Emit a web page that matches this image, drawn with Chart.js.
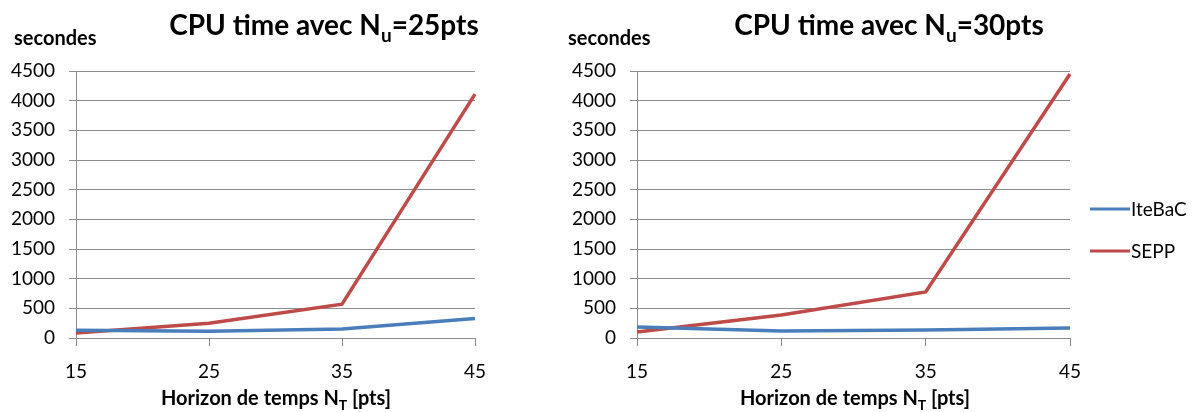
<!DOCTYPE html>
<html>
<head>
<meta charset="utf-8">
<script src="https://cdn.jsdelivr.net/npm/chart.js@4.4.0/dist/chart.umd.min.js"></script>
<style>
  html, body { margin: 0; padding: 0; background: #fff; }
  #wrap { position: relative; width: 1198px; height: 412px; overflow: hidden; }
  .box { position: absolute; top: 0; height: 412px; }
  #leftBox { left: 0; width: 560px; }
  #rightBox { left: 560px; width: 638px; }
</style>
</head>
<body>
<div id="wrap">
  <div class="box" id="leftBox"><canvas id="cpu25"></canvas></div>
  <div class="box" id="rightBox"><canvas id="cpu30"></canvas></div>
</div>
<script>
'use strict';

/* --- Data --- */
const horizons = ['15', '25', '35', '45'];
const yTickValues = [0, 500, 1000, 1500, 2000, 2500, 3000, 3500, 4000, 4500];

const iteBaC25 = [130, 115, 150, 330];
const sepp25 = [85, 250, 570, 4110];

const iteBaC30 = [185, 118, 135, 168];
const sepp30 = [100, 388, 775, 4450];

const BLUE = '#4a7ebb';
const RED = '#be4b48';
const GRID = '#8c8c8c';
const FONT = 'Lato';

/* --- Text with a subscript part: [main, sub, tail] --- */
function drawSubText(ctx, parts, cx, baseline, size, subSize, drop) {
  ctx.font = `bold ${size}px ${FONT}`;
  const w0 = ctx.measureText(parts[0]).width;
  const w2 = ctx.measureText(parts[2]).width;
  ctx.font = `bold ${subSize}px ${FONT}`;
  const w1 = ctx.measureText(parts[1]).width;
  let x = cx - (w0 + w1 + w2) / 2;
  ctx.textAlign = 'left';
  ctx.font = `bold ${size}px ${FONT}`;
  ctx.fillText(parts[0], x, baseline);
  x += w0;
  ctx.font = `bold ${subSize}px ${FONT}`;
  ctx.fillText(parts[1], x, baseline + drop);
  x += w1;
  ctx.font = `bold ${size}px ${FONT}`;
  ctx.fillText(parts[2], x, baseline);
}

/* --- Titles, unit label, axis title and legend --- */
const captionPlugin = {
  id: 'captions',
  afterDraw(chart, args, opts) {
    const ctx = chart.ctx;
    ctx.save();
    ctx.fillStyle = '#000';
    ctx.textBaseline = 'alphabetic';

    drawSubText(ctx, opts.title, opts.titleX, 35, 28, 19, 7);
    drawSubText(ctx, opts.axisTitle, opts.axisX, 405, 20, 14, 5);

    ctx.font = `bold 20px ${FONT}`;
    ctx.textAlign = 'left';
    ctx.fillText('secondes', opts.unitX, 45);

    if (opts.legendX != null) {
      chart.data.datasets.forEach((ds, i) => {
        const y = opts.legendY[i];
        ctx.strokeStyle = ds.borderColor;
        ctx.lineWidth = 3;
        ctx.beginPath();
        ctx.moveTo(opts.legendX, y);
        ctx.lineTo(opts.legendX + 40, y);
        ctx.stroke();
        ctx.font = `19px ${FONT}`;
        ctx.textBaseline = 'middle';
        ctx.fillText(ds.label, opts.legendX + 41, y + 1);
      });
    }
    ctx.restore();
  }
};

/* --- Chart builder --- */
function buildChart(id, iteVals, seppVals, caps, yWidth, padRight) {
  return new Chart(document.getElementById(id), {
    type: 'line',
    data: {
      labels: horizons,
      datasets: [{
        label: 'IteBaC',
        data: iteVals,
        borderColor: BLUE,
        borderWidth: 3.5,
        pointRadius: 0,
        tension: 0
      }, {
        label: 'SEPP',
        data: seppVals,
        borderColor: RED,
        borderWidth: 3.5,
        pointRadius: 0,
        tension: 0
      }]
    },
    options: {
      responsive: true, maintainAspectRatio: false, animation: false,
      layout: { padding: { top: 71, right: padRight, bottom: 0, left: 0 } },
      plugins: {
        legend: { display: false },
        tooltip: { enabled: false },
        captions: caps
      },
      scales: {
        x: {
          offset: false,
          grid: { drawOnChartArea: false, drawTicks: true, tickLength: 8, color: GRID },
          border: { color: GRID },
          ticks: { font: { family: FONT, size: 19 }, color: '#000', padding: 14, maxRotation: 0 },
          afterFit: s => { s.height = 74; }
        },
        y: {
          min: 0, max: 4500,
          afterBuildTicks: s => { s.ticks = yTickValues.map(v => ({ value: v })); },
          grid: { color: GRID, tickLength: 7 },
          border: { color: GRID },
          ticks: {
            font: { family: FONT, size: 19 }, color: '#000', padding: 14,
            callback: v => String(v)
          },
          afterFit: s => { s.width = yWidth; }
        }
      }
    },
    plugins: [captionPlugin]
  });
}

buildChart('cpu25', iteBaC25, sepp25, {
  title: ['CPU time avec N', 'u', '=25pts'], titleX: 324,
  axisTitle: ['Horizon de temps N', 'T', ' [pts]'], axisX: 276,
  unitX: 14
}, 76, 85);

buildChart('cpu30', iteBaC30, sepp30, {
  title: ['CPU time avec N', 'u', '=30pts'], titleX: 329,
  axisTitle: ['Horizon de temps N', 'T', ' [pts]'], axisX: 295,
  unitX: 8,
  legendX: 530, legendY: [209, 251]
}, 77, 128);
</script>
</body>
</html>
